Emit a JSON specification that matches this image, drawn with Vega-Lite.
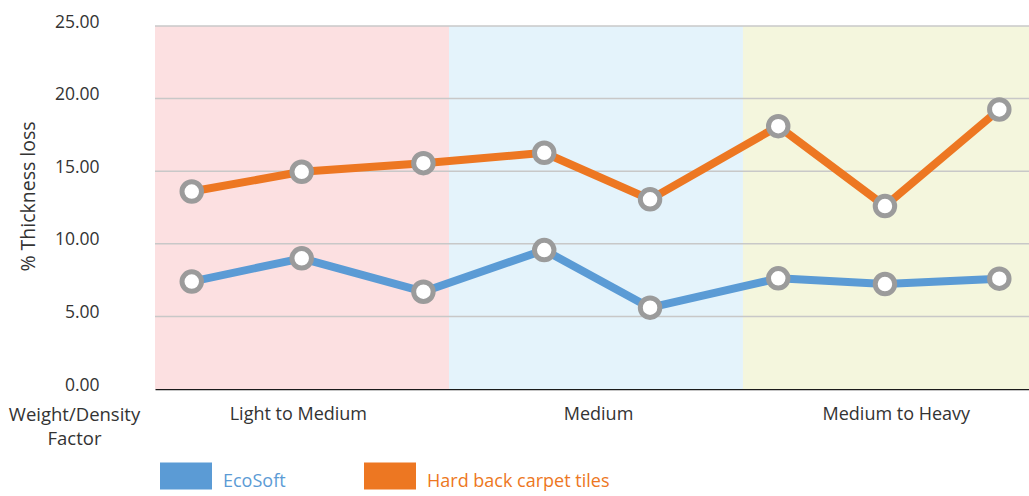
{
  "$schema": "https://vega.github.io/schema/vega-lite/v6.json",
  "autosize": "none",
  "width": 874,
  "height": 363,
  "padding": {"left": 155, "top": 26, "right": 0, "bottom": 107},
  "background": "white",
  "config": {
    "view": {"stroke": null},
    "font": "Open Sans"
  },
  "datasets": {
    "bands": [
      {"start": 0, "end": 1, "band": "Light to Medium", "lo": 0, "hi": 25},
      {"start": 1, "end": 2, "band": "Medium", "lo": 0, "hi": 25},
      {"start": 2, "end": 2.973, "band": "Medium to Heavy", "lo": 0, "hi": 25}
    ],
    "grid": [{"g": 5}, {"g": 10}, {"g": 15}, {"g": 20}, {"g": 25}],
    "series": [
      {"series": "Hard back carpet tiles", "pos": 0.125, "loss": 13.6},
      {"series": "Hard back carpet tiles", "pos": 0.499, "loss": 14.96},
      {"series": "Hard back carpet tiles", "pos": 0.913, "loss": 15.55},
      {"series": "Hard back carpet tiles", "pos": 1.324, "loss": 16.27},
      {"series": "Hard back carpet tiles", "pos": 1.684, "loss": 13.06},
      {"series": "Hard back carpet tiles", "pos": 2.12, "loss": 18.1},
      {"series": "Hard back carpet tiles", "pos": 2.483, "loss": 12.6},
      {"series": "Hard back carpet tiles", "pos": 2.872, "loss": 19.25},
      {"series": "EcoSoft", "pos": 0.125, "loss": 7.4},
      {"series": "EcoSoft", "pos": 0.499, "loss": 9.0},
      {"series": "EcoSoft", "pos": 0.913, "loss": 6.7},
      {"series": "EcoSoft", "pos": 1.324, "loss": 9.57},
      {"series": "EcoSoft", "pos": 1.684, "loss": 5.6},
      {"series": "EcoSoft", "pos": 2.12, "loss": 7.62},
      {"series": "EcoSoft", "pos": 2.483, "loss": 7.23},
      {"series": "EcoSoft", "pos": 2.872, "loss": 7.6}
    ]
  },
  "layer": [
    {
      "data": {"name": "bands"},
      "mark": {"type": "rect"},
      "encoding": {
        "x": {
          "field": "start", "type": "quantitative",
          "scale": {"domain": [0, 2.973], "nice": false, "zero": false},
          "axis": {
            "values": [0.486, 1.507, 2.52],
            "labelExpr": "datum.value < 1 ? 'Light to Medium' : datum.value < 2 ? 'Medium' : 'Medium to Heavy'",
            "grid": false,
            "ticks": false,
            "tickSize": 0,
            "domain": true,
            "domainColor": "#1a1a1a",
            "domainWidth": 1.5,
            "labelFont": "Open Sans",
            "labelFontSize": 18,
            "labelColor": "#333333",
            "labelBaseline": "middle",
            "labelPadding": 25,
            "labelFlush": false,
            "labelOverlap": false,
            "title": ["Weight/Density", "Factor"],
            "titleFont": "Open Sans",
            "titleFontSize": 18.5,
            "titleFontWeight": "normal",
            "titleColor": "#333333",
            "titleX": -81,
            "titleY": 31,
            "titleAlign": "center",
            "titleBaseline": "alphabetic",
            "titleLineHeight": 24
          }
        },
        "x2": {"field": "end"},
        "y": {
          "field": "lo", "type": "quantitative",
          "scale": {"domain": [0, 25], "nice": false},
          "axis": {
            "values": [0, 5, 10, 15, 20, 25],
            "format": ".2f",
            "grid": false,
            "ticks": false,
            "tickSize": 0,
            "domain": false,
            "labelFont": "Open Sans",
            "labelFontSize": 17.5,
            "labelColor": "#333333",
            "labelPadding": 56,
            "labelOffset": -4,
            "title": "% Thickness loss",
            "titleFont": "Open Sans",
            "titleFontSize": 19.5,
            "titleFontWeight": "normal",
            "titleColor": "#333333",
            "titleX": -127,
            "titleY": 170,
            "titleAngle": 270,
            "titleAlign": "center",
            "titleBaseline": "middle"
          }
        },
        "y2": {"field": "hi"},
        "fill": {
          "field": "band", "type": "nominal",
          "scale": {"domain": ["Light to Medium", "Medium", "Medium to Heavy"], "range": ["#fce0e1", "#e4f3fb", "#f4f6dd"]},
          "legend": null
        }
      }
    },
    {
      "data": {"name": "grid"},
      "mark": {"type": "rule", "color": "#c8c8c8", "strokeWidth": 1.5},
      "encoding": {
        "y": {"field": "g", "type": "quantitative"}
      }
    },
    {
      "data": {"name": "series"},
      "mark": {"type": "line", "strokeWidth": 8, "strokeJoin": "round", "strokeCap": "butt"},
      "encoding": {
        "x": {"field": "pos", "type": "quantitative"},
        "y": {"field": "loss", "type": "quantitative"},
        "color": {
          "field": "series", "type": "nominal",
          "scale": {"domain": ["EcoSoft", "Hard back carpet tiles"], "range": ["#5b9bd5", "#ed7722"]},
          "legend": {
            "orient": "none",
            "direction": "horizontal",
            "legendX": 5,
            "legendY": 424,
            "padding": 0,
            "title": null,
            "symbolType": "M-1,-0.52H1V0.52H-1Z",
            "symbolSize": 2704,
            "symbolStrokeWidth": 0,
            "symbolOpacity": 1,
            "labelFont": "Open Sans",
            "labelFontSize": 18,
            "labelOffset": 11,
            "columnPadding": 78,
            "labelLimit": 400,
            "encode": {
              "symbols": {"update": {"fill": {"scale": "color", "field": "value"}, "strokeWidth": {"value": 0}}},
              "labels": {"update": {"fill": {"scale": "color", "field": "value"}, "dy": {"value": 6}}}
            }
          }
        }
      }
    },
    {
      "data": {"name": "series"},
      "mark": {"type": "point", "shape": "circle", "filled": true, "fill": "white", "stroke": "#9b9b9b", "strokeWidth": 5, "size": 380, "opacity": 1},
      "encoding": {
        "x": {"field": "pos", "type": "quantitative"},
        "y": {"field": "loss", "type": "quantitative"},
        "detail": {"field": "series"}
      }
    }
  ]
}
